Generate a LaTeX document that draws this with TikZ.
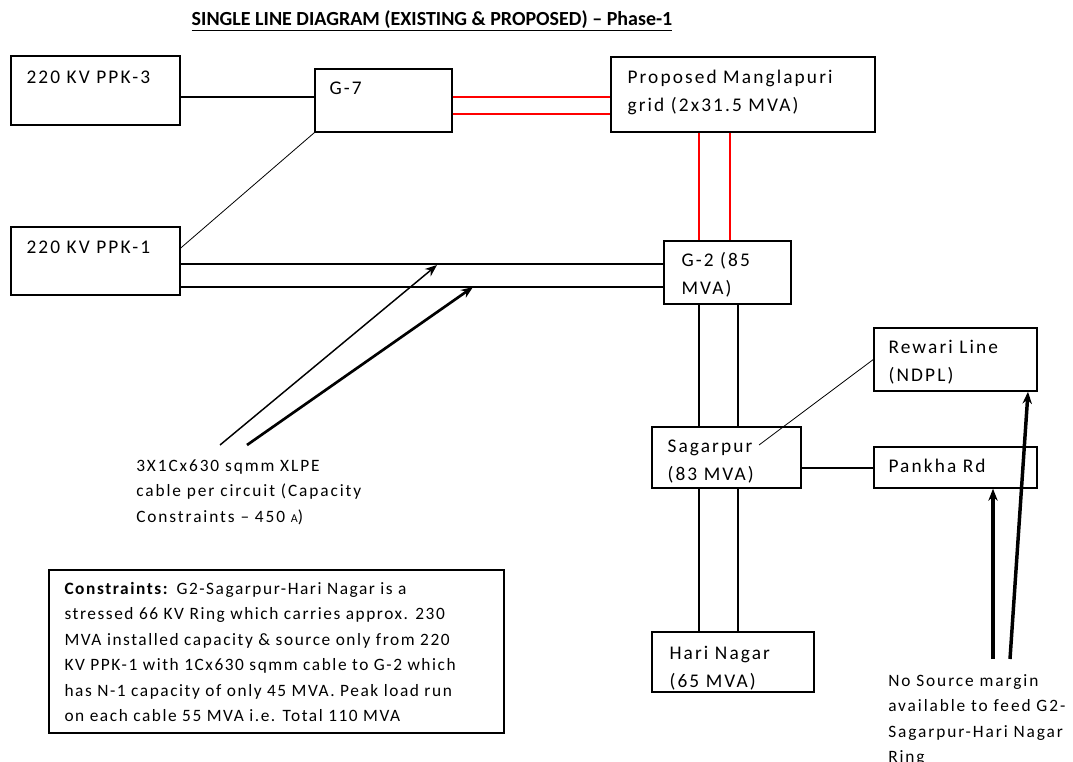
\documentclass[tikz,border=0pt]{standalone}
\usepackage{fontspec}
\setmainfont{Carlito}
\newfontfamily\boxfont[LetterSpace=11]{Carlito}
\newfontfamily\notefont[LetterSpace=11]{Carlito}
\newfontfamily\consfont[LetterSpace=9]{Carlito}
\usetikzlibrary{fit,arrows.meta}

\begin{document}
\begin{tikzpicture}[x=0.75pt,y=-0.75pt,
  box/.style={draw, line width=1.1pt, inner sep=0pt},
  boxtext/.style={anchor=north west, inner sep=0pt, align=left,
    font=\boxfont\fontsize{14.5}{21}\selectfont},
  note/.style={anchor=north west, inner sep=0pt, align=left,
    font=\notefont\fontsize{13}{19.1}\selectfont},
  feed/.style={line width=1pt},
  redfeed/.style={line width=1pt, draw=red},
  tap/.style={line width=0.6pt},
  pointer/.style={-{Stealth[length=9pt,width=7pt]}, line width=1.1pt},
  heavypointer/.style={-{Stealth[length=9pt,width=7pt]}, line width=2.6pt}
]
\useasboundingbox (0,0) rectangle (1073,762);

% title
\node[font=\fontsize{15}{18}\selectfont\bfseries] (title) at (432,21)
  {\underline{SINGLE LINE DIAGRAM (EXISTING \& PROPOSED) -- Phase-1}};

% substations
\node[box, fit={(11,56) (180,125)}] (ppk3) {};
\node[box, fit={(315,69) (452,132)}] (g7) {};
\node[box, fit={(11,227) (180,295)}] (ppk1) {};
\node[box, fit={(611,57) (875,132)}] (mang) {};
\node[box, fit={(664,241) (791,304)}] (g2) {};
\node[box, fit={(874,328) (1037,391)}] (rewari) {};
\node[box, fit={(652,427) (801,488)}] (sgp) {};
\node[box, fit={(874,447) (1037,488)}] (pankha) {};
\node[box, fit={(652,632) (814,692)}] (hari) {};
\node[box, fit={(49,570) (504,733)}] (cons) {};

\newcommand\first{\rule{0pt}{11pt}}
\node[boxtext] (ppk3t) at ([shift={(16,13.8)}]ppk3.north west) {\first 220 KV PPK-3};
\node[boxtext] (g7t) at ([shift={(15,11.8)}]g7.north west) {\first G-7};
\node[boxtext] (ppk1t) at ([shift={(16,12.8)}]ppk1.north west) {\first 220 KV PPK-1};
\node[boxtext] (mangt) at ([shift={(17,12.8)}]mang.north west) {\first Proposed Manglapuri\\grid (2x31.5 MVA)};
\node[boxtext] (g2t) at ([shift={(18,11.8)}]g2.north west) {\first G-2 (85\\MVA)};
\node[boxtext] (rewarit) at ([shift={(15,11.8)}]rewari.north west) {\first Rewari Line\\(NDPL)};
\node[boxtext] (sgpt) at ([shift={(16,10.8)}]sgp.north west) {\first Sagarpur\\(83 MVA)};
\node[boxtext] (pankhat) at ([shift={(15,10.8)}]pankha.north west) {\first Pankha Rd};
\node[boxtext] (harit) at ([shift={(18,12.8)}]hari.north west) {\first Hari Nagar\\(65 MVA)};

\node[note, font=\consfont\fontsize{13}{19.1}\selectfont] (const) at ([shift={(16,10.3)}]cons.north west) {\first\textbf{Constraints:} G2-Sagarpur-Hari Nagar is a\\
stressed 66 KV Ring which carries approx. 230\\
MVA installed capacity \& source only from 220\\
KV PPK-1 with 1Cx630 sqmm cable to G-2 which\\
has N-1 capacity of only 45 MVA. Peak load run\\
on each cable 55 MVA i.e. Total 110 MVA};

\node[note] (cable) at (136,456.5) {\first 3X1Cx630 sqmm XLPE\\cable per circuit (Capacity\\Constraints \textendash\ 450 {\small A})};
\node[note] (margin) at (888,671.5) {\first No Source margin\\available to feed G2-\\Sagarpur-Hari Nagar\\Ring};

% existing circuits
\draw[feed] (ppk3.east |- 0,97) -- (g7.west |- 0,97);
\draw[tap] (ppk1.east |- 0,248) -- (g7.south west);
\draw[feed] (ppk1.east |- 0,264) -- (g2.west |- 0,264);
\draw[feed] (ppk1.east |- 0,287) -- (g2.west |- 0,287);
\draw[feed] (g2.south -| 699,0) -- (sgp.north -| 699,0);
\draw[feed] (g2.south -| 738,0) -- (sgp.north -| 738,0);
\draw[feed] (sgp.south -| 699,0) -- (hari.north -| 699,0);
\draw[feed] (sgp.south -| 738,0) -- (hari.north -| 738,0);
\draw[feed] (sgp.east |- 0,468) -- (pankha.west |- 0,468);
\coordinate (sgptap) at (759,445);
\draw[tap] (sgptap) -- (rewari.west);

% proposed circuits
\draw[redfeed] (g7.east |- 0,97) -- (mang.west |- 0,97);
\draw[redfeed] (g7.east |- 0,114) -- (mang.west |- 0,114);
\draw[redfeed] (mang.south -| 699,0) -- (g2.north -| 699,0);
\draw[redfeed] (mang.south -| 730,0) -- (g2.north -| 730,0);

% call-outs
\coordinate (c1s) at (220,445);
\coordinate (c1e) at (437,265);
\coordinate (c2s) at (247,445);
\coordinate (c2e) at (473,287);
\draw[pointer] (c1s) -- (c1e);
\draw[heavypointer, line width=2pt] (c2s) -- (c2e);
\coordinate (m1s) at (993,659);
\coordinate (m2s) at (1010,659);
\draw[heavypointer] (m1s) -- (pankha.south -| m1s);
\draw[heavypointer] (m2s) -- (rewari.south -| 1028,0);
\end{tikzpicture}
\end{document}
